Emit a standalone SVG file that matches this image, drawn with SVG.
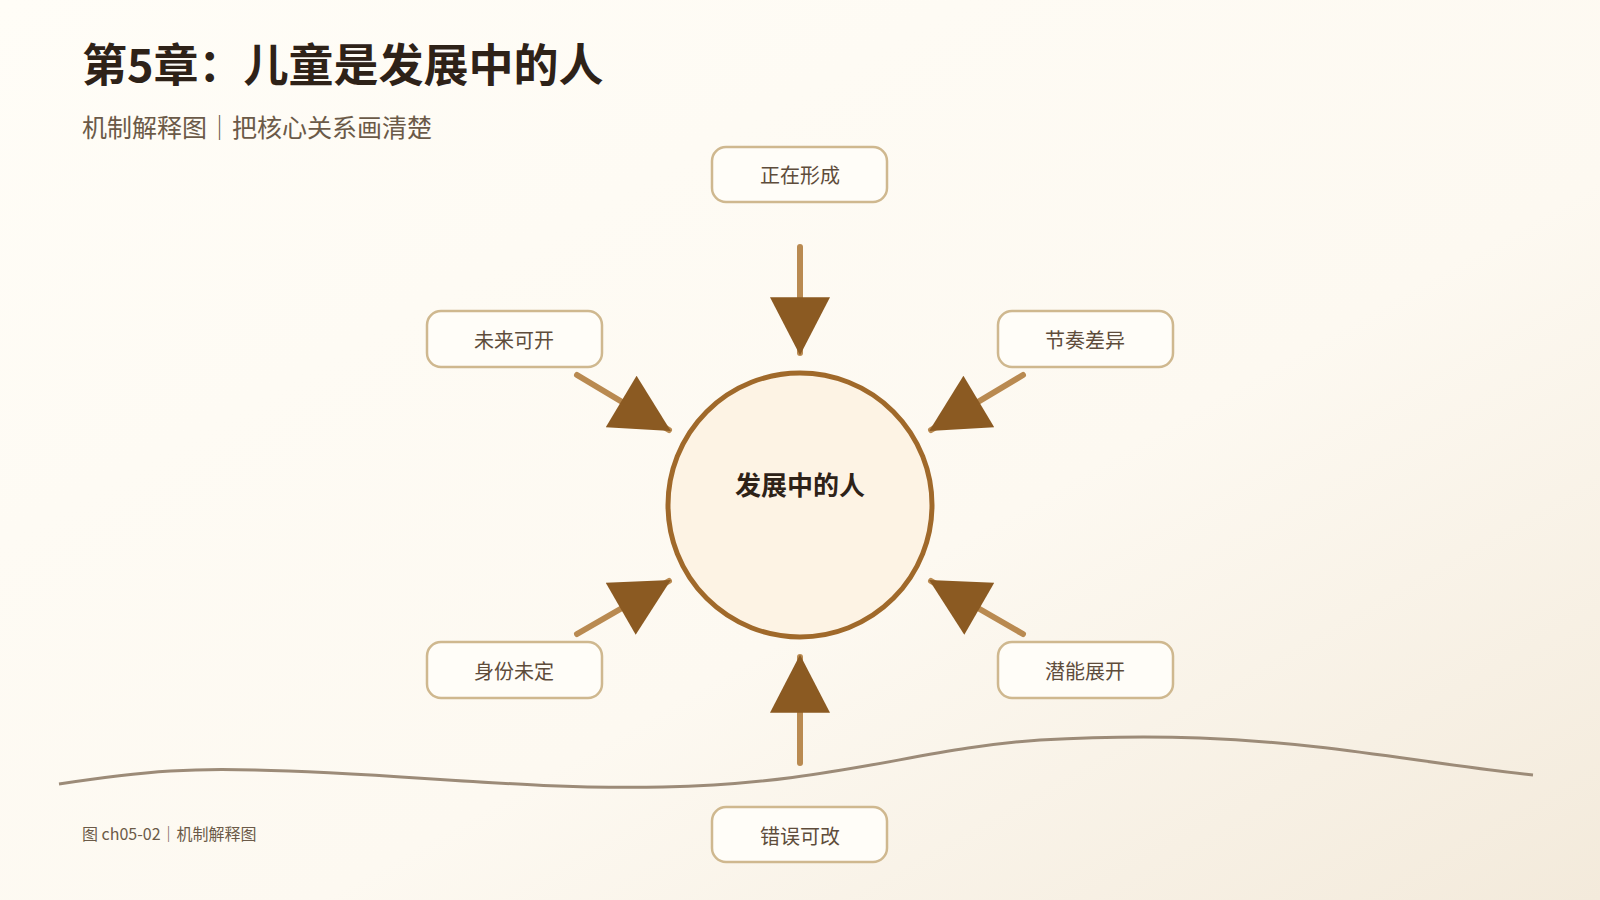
<svg xmlns="http://www.w3.org/2000/svg" width="1600" height="900" viewBox="0 0 1600 900">
<defs>
<linearGradient id="bg" x1="0" y1="0" x2="1" y2="1">
<stop offset="0" stop-color="#fffdf7"/><stop offset="0.6" stop-color="#fdf9f1"/><stop offset="1" stop-color="#f3eadb"/>
</linearGradient>
<marker id="ah" markerUnits="userSpaceOnUse" markerWidth="60" markerHeight="60" viewBox="0 0 54 56" refX="52" refY="28" orient="auto">
<path d="M0,0 L54,28 L0,56 Z" fill="#8b5a22"/>
</marker>
<style>
.box{fill:#fffdf8;stroke:#cfb88f;stroke-width:2.5}
.lbl{font-family:"Noto Sans CJK SC","Noto Sans",sans-serif;font-size:20px;fill:#5e4c3b;text-anchor:middle;dominant-baseline:central}
.con{stroke:#b98a51;stroke-width:6;stroke-linecap:round;fill:none;marker-end:url(#ah)}
</style>
</defs>
<rect width="1600" height="900" fill="url(#bg)"/>
<text x="82" y="82" font-family="Noto Sans CJK SC,sans-serif" font-weight="bold" font-size="45" fill="#2e2218">第5章：儿童是发展中的人</text>
<text x="82" y="137" font-family="Noto Sans CJK SC,sans-serif" font-size="25" fill="#6b5a48">机制解释图｜把核心关系画清楚</text>
<path d="M59,784 C150,770 200,768 255,770 C400,773 520,790 663,787 C830,784 920,748 1040,740 C1110,736 1150,736 1200,738 C1330,743 1420,763 1533,775" fill="none" stroke="#9c8b78" stroke-width="3"/>
<text x="82" y="840" font-family="Noto Sans CJK SC,sans-serif" font-size="16" fill="#6b5a48">图 ch05-02｜机制解释图</text>
<g id="connectors">
<line class="con" x1="800" y1="247" x2="800" y2="353"/>
<line class="con" x1="800" y1="763" x2="800" y2="657"/>
<line class="con" x1="577" y1="375" x2="669" y2="430"/>
<line class="con" x1="1023" y1="375" x2="931" y2="430"/>
<line class="con" x1="577" y1="634" x2="669" y2="581"/>
<line class="con" x1="1023" y1="634" x2="931" y2="581"/>
</g>
<g id="center">
<circle cx="800" cy="505" r="132" fill="#fdf3e4" stroke="#a0692a" stroke-width="5"/>
<text x="800" y="483" font-family="Noto Sans CJK SC,sans-serif" font-weight="bold" font-size="26" fill="#2e2218" text-anchor="middle" dominant-baseline="central">发展中的人</text>
</g>
<g id="n1"><rect class="box" x="712" y="147" width="175" height="55" rx="14"/><text class="lbl" x="800" y="174">正在形成</text></g>
<g id="n2"><rect class="box" x="427" y="311" width="175" height="56" rx="14"/><text class="lbl" x="514" y="339">未来可开</text></g>
<g id="n3"><rect class="box" x="998" y="311" width="175" height="56" rx="14"/><text class="lbl" x="1085" y="339">节奏差异</text></g>
<g id="n4"><rect class="box" x="427" y="642" width="175" height="56" rx="14"/><text class="lbl" x="514" y="670">身份未定</text></g>
<g id="n5"><rect class="box" x="998" y="642" width="175" height="56" rx="14"/><text class="lbl" x="1085" y="670">潜能展开</text></g>
<g id="n6"><rect class="box" x="712" y="807" width="175" height="55" rx="14"/><text class="lbl" x="800" y="835">错误可改</text></g>
</svg>
